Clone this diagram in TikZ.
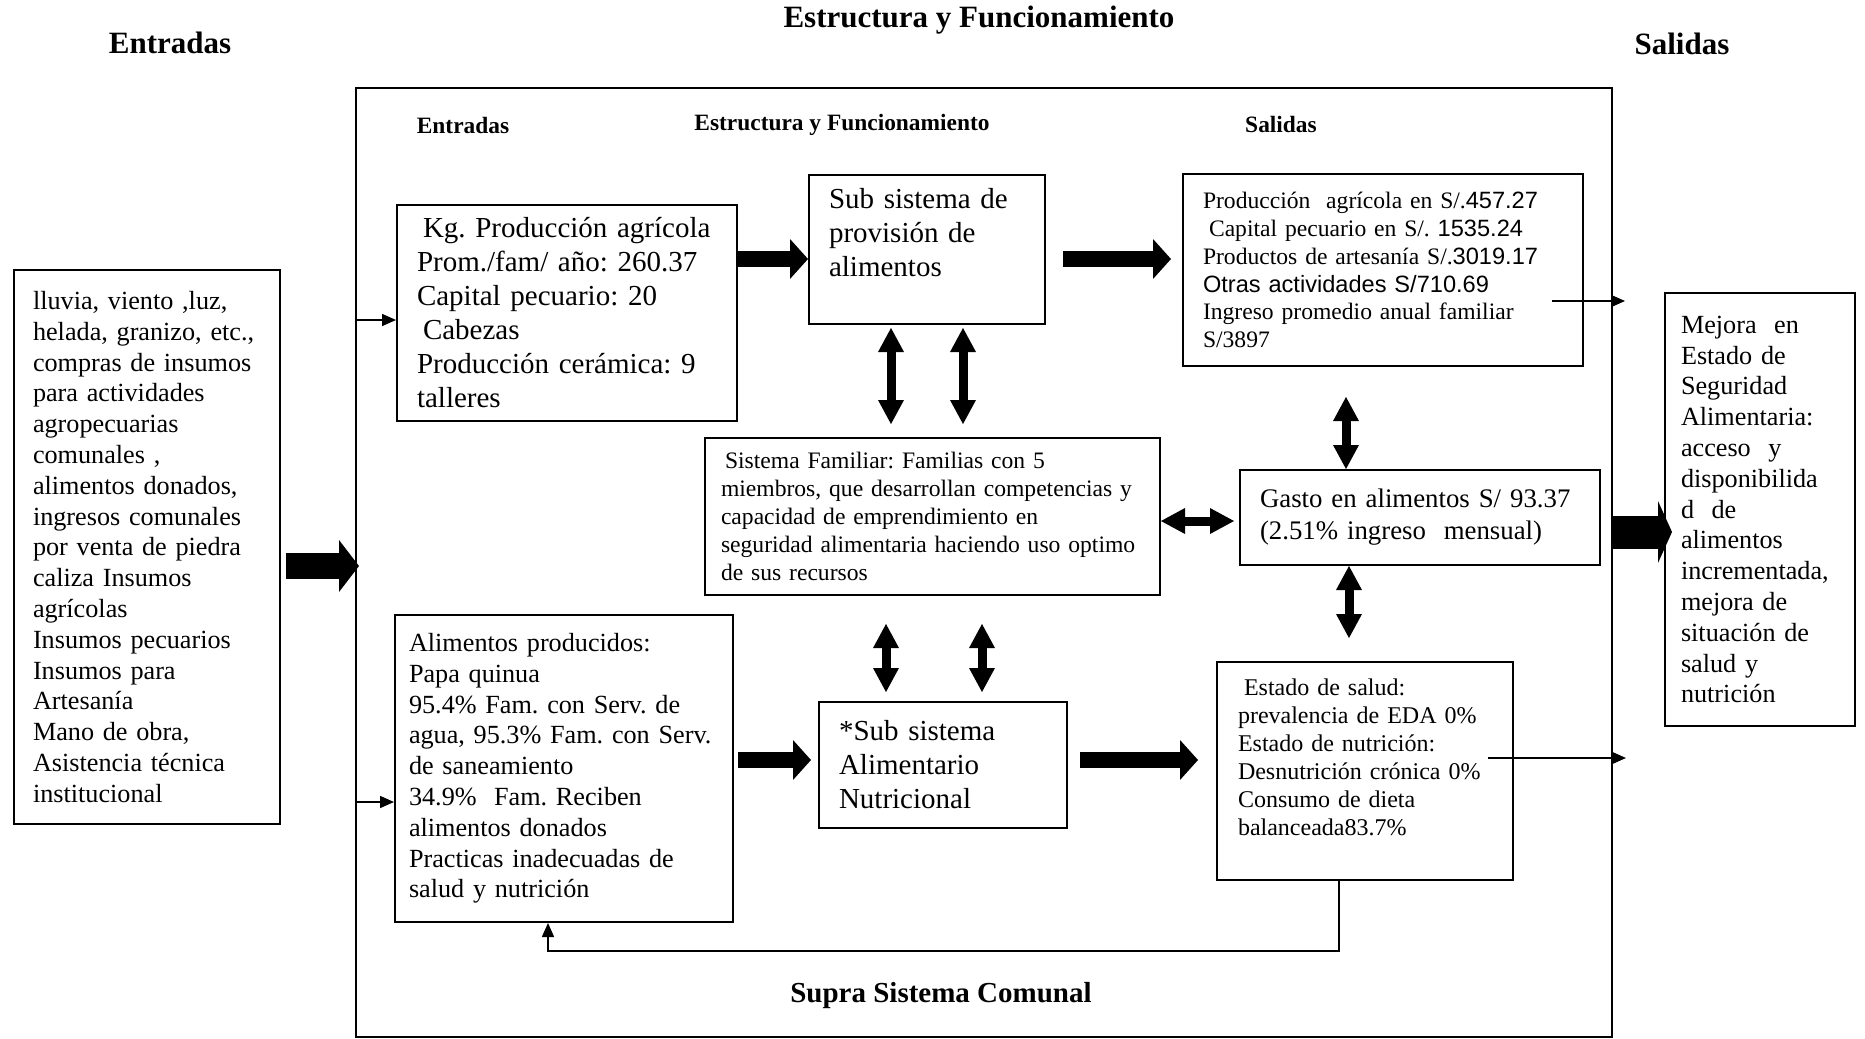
\documentclass[tikz,border=0pt]{standalone}
\usepackage{fontspec}
\setmainfont{Liberation Serif}
\setsansfont{Liberation Sans}
\usetikzlibrary{arrows.meta}
\frenchspacing
\hyphenpenalty=10000

\begin{document}
\begin{tikzpicture}[x=0.5pt,y=-0.5pt,
  box/.style={draw,line width=1pt,align=left,inner xsep=10pt,inner ysep=0pt},
  title/.style={font=\bfseries\fontsize{15.5}{18}\selectfont},
  subtitle/.style={font=\bfseries\fontsize{11.7}{14}\selectfont},
  fbig/.style={font=\fontsize{14.5}{17}\selectfont},
  fmid/.style={font=\fontsize{13.1}{15.4}\selectfont},
  fsmall/.style={font=\fontsize{11.8}{13.9}\selectfont},
  hugearrow/.style={line width=13pt,-{Triangle[length=10pt,width=26pt,line width=0pt]}},
  outarrow/.style={line width=16.5pt,-{Triangle[length=7pt,width=31pt,line width=0pt]}},
  bigarrow/.style={line width=8pt,-{Triangle[length=9pt,width=20pt,line width=0pt]}},
  dblarrow/.style={line width=4.5pt,>={Triangle[length=12pt,width=13pt,line width=0pt]},<->},
  thinarrow/.style={line width=0.8pt,-{Triangle[length=7pt,width=6pt]}}]
\useasboundingbox (0,0) rectangle (1865,1039);

% titulos
\node[title] (tEnt) at (170,43) {Entradas};
\node[title] (tEst) at (979,20) {Estructura y Funcionamiento};
\node[title] (tSal) at (1682,44) {Salidas};

% supra sistema comunal
\node[draw,line width=1pt,minimum width=628pt,minimum height=474.5pt] (supra) at (984,562.5) {};
\node[font=\bfseries\fontsize{14.5}{17}\selectfont] (supralbl) at (941,996) {Supra Sistema Comunal};
\node[subtitle] (sEnt) at (463,125) {Entradas};
\node[subtitle] (sEst) at (842,125) {Estructura y Funcionamiento};
\node[subtitle] (sSal) at (1281,124) {Salidas};

% entradas
\node[box,fmid,minimum width=133pt,minimum height=277pt,text width=114pt,inner xsep=9.5pt] (insumos) at (147,547)
  {lluvia, viento ,luz,\\ helada, granizo, etc.,\\ compras de insumos\\ para actividades\\ agropecuarias\\
   comunales ,\\ alimentos donados,\\ ingresos comunales\\ por venta de piedra\\ caliza Insumos\\ agrícolas\\
   Insumos pecuarios\\ Insumos para\\ Artesanía\\ Mano de obra,\\ Asistencia técnica\\ institucional};

% estructura
\node[box,fbig,minimum width=170pt,minimum height=108pt,text width=150pt] (prodagr) at (567,313)
  {\hspace*{3pt}Kg. Producción agrícola\\ Prom./fam/ año: 260.37\\ Capital pecuario: 20\\ \hspace*{3pt}Cabezas\\
   Producción cerámica: 9\\ talleres};
\node[box,fbig,minimum width=118pt,minimum height=74.5pt,text width=98pt] (subprov) at (927,249.5)
  {Sub sistema de\\ provisión de\\ alimentos\\ \mbox{}};
\node[box,fsmall,minimum width=227.5pt,minimum height=78.5pt,text width=211.5pt,inner xsep=8pt] (familiar) at (932.5,516.5)
  {\hspace*{2pt}Sistema Familiar: Familias con 5\\ miembros, que desarrollan competencias y\\
   capacidad de emprendimiento en\\ seguridad alimentaria haciendo uso optimo\\ de sus recursos};
\node[box,fmid,minimum width=169pt,minimum height=153.5pt,text width=155pt,inner xsep=7pt] (alimprod) at (564,768.5)
  {Alimentos producidos:\\ Papa quinua\\ 95.4\% Fam. con Serv. de\\ agua, 95.3\% Fam. con Serv.\\ de saneamiento\\
   34.9\%~ Fam. Reciben\\ alimentos donados\\ Practicas inadecuadas de\\ salud y nutrición};
\node[box,fbig,minimum width=124pt,minimum height=63pt,text width=104pt] (subalim) at (943,765)
  {*Sub sistema\\ Alimentario\\ Nutricional};

% salidas
\node[box,fsmall,minimum width=200pt,minimum height=96pt,text width=180pt] (ingresos) at (1383,270)
  {Producción~ agrícola en S/.\textsf{457.27}\\ \hspace*{3pt}Capital pecuario en S/. \textsf{1535.24}\\
   Productos de artesanía S/.\textsf{3019.17}\\ \textsf{Otras actividades S/710.69}\\
   Ingreso promedio anual familiar\\ S/3897};
\node[box,font=\fontsize{13.4}{16}\selectfont,minimum width=180pt,minimum height=47.5pt,text width=160pt] (gasto) at (1420,517.5)
  {Gasto en alimentos S/ 93.37\\ (2.51\% ingreso~ mensual)};
\node[box,font=\fontsize{12}{14}\selectfont,minimum width=148pt,minimum height=109pt,text width=127pt,inner xsep=10.5pt] (salud) at (1365,771)
  {\hspace*{3pt}Estado de salud:\\ prevalencia de EDA 0\%\\ Estado de nutrición:\\ Desnutrición crónica 0\%\\
   Consumo de dieta\\ balanceada83.7\%\\ \mbox{}};
\node[box,fmid,minimum width=95pt,minimum height=216.5pt,text width=79pt,inner xsep=8pt] (mejora) at (1760,509.5)
  {Mejora~ en\\ Estado de\\ Seguridad\\ Alimentaria:\\ acceso~ y\\ disponibilida\\ d~ de\\ alimentos\\
   incrementada,\\ mejora de\\ situación de\\ salud y\\ nutrición};

% flechas
\draw[hugearrow,shorten <=2.5pt,shorten >=-2pt] (insumos.east |- 0,566) -- (supra.west |- 0,566);
\draw[thinarrow] (supra.west |- 0,320) -- (prodagr.west |- 0,320);
\draw[thinarrow] (supra.west |- 0,802) -- (alimprod.west |- 0,802);
\draw[bigarrow] (prodagr.east |- 0,259) -- (subprov.west |- 0,259);
\draw[bigarrow,shorten <=8.5pt,shorten >=5.5pt] (subprov.east |- 0,259) -- (ingresos.west |- 0,259);
\draw[bigarrow,shorten <=2pt,shorten >=3.5pt] (alimprod.east |- 0,760) -- (subalim.west |- 0,760);
\draw[bigarrow,shorten <=6pt,shorten >=9pt] (subalim.east |- 0,760) -- (salud.west |- 0,760);
\foreach \x in {891,963}
  \draw[dblarrow,shorten <=1.5pt,shorten >=6.5pt] (subprov.south -| \x,0) -- (familiar.north -| \x,0);
\foreach \x in {886,982}
  \draw[dblarrow,shorten <=14pt,shorten >=4.5pt] (familiar.south -| \x,0) -- (subalim.north -| \x,0);
\draw[dblarrow,shorten <=15pt] (ingresos.south -| 1346,0) -- (gasto.north -| 1346,0);
\draw[dblarrow,shorten >=11.5pt] (gasto.south -| 1349,0) -- (salud.north -| 1349,0);
\draw[dblarrow,shorten >=2.5pt] (familiar.east |- 0,521) -- (gasto.west |- 0,521);
\draw[thinarrow,shorten <=-16pt,shorten >=-6pt] (ingresos.east |- 0,301) -- (supra.east |- 0,301);
\draw[thinarrow,shorten <=-13pt,shorten >=-6.5pt] (salud.east |- 0,758) -- (supra.east |- 0,758);
\draw[outarrow,shorten >=-4pt] (supra.east |- 0,532) -- (mejora.west |- 0,532);
% retroalimentacion
\coordinate (fb) at (548,951);
\draw[thinarrow] (salud.south -| 1339,0) |- (fb) -- (alimprod.south -| fb);
\end{tikzpicture}
\end{document}
